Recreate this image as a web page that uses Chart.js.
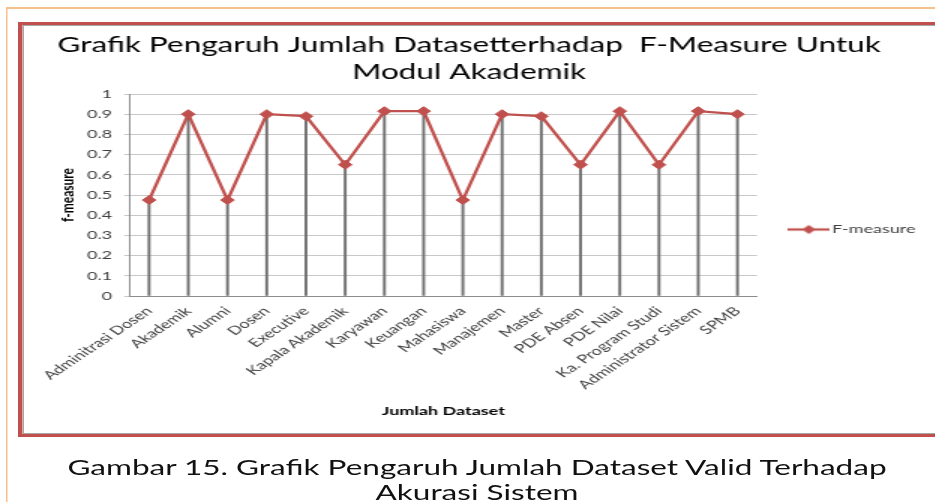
<!DOCTYPE html>
<html><head><meta charset="utf-8">
<script src="https://cdn.jsdelivr.net/npm/chart.js@4.4.1/dist/chart.umd.min.js"></script>
<style>
html,body{margin:0;padding:0;background:#fff;overflow:hidden;width:935px;height:502px;}
#page{position:absolute;left:0;top:0;width:623.33px;height:502px;transform:scaleX(1.5);transform-origin:0 0;}
#orange{position:absolute;left:3.5px;top:7px;width:700px;height:600px;border-top:2px solid #F8C08C;border-left:1.5px solid #F8C08C;}
#redbox{position:absolute;left:12px;top:22px;width:700px;height:415px;box-sizing:border-box;border:3px solid #C0504D;box-shadow:inset 0 0 0 1px #a6a6a6;background:#fff;}
#cv{position:absolute;left:0;top:26px;}
#caption{position:absolute;left:0;top:454px;width:636px;text-align:center;font-family:Lato,sans-serif;font-size:21px;line-height:25px;color:#111;}
</style></head>
<body>
<div id="page">
  <div id="orange"></div>
  <div id="redbox"></div>
  <canvas id="cv" width="623" height="407"></canvas>
  <div id="caption">Gambar 15. Grafik Pengaruh Jumlah Dataset Valid Terhadap<br>Akurasi Sistem</div>
</div>
<script>
const categories = ["Adminitrasi Dosen","Akademik","Alumni","Dosen","Executive","Kapala Akademik","Karyawan","Keuangan","Mahasiswa","Manajemen","Master","PDE Absen","PDE Nilai","Ka. Program Studi","Administrator Sistem","SPMB"];
const fMeasure = [0.475,0.9,0.475,0.9,0.89,0.65,0.915,0.915,0.475,0.9,0.89,0.65,0.915,0.65,0.915,0.9];
const yTickLabels = ["0","0.1","0.2","0.3","0.4","0.5","0.6","0.7","0.8","0.9","1"];
const seriesName = "F-measure";
const chartTitle = ["Grafik Pengaruh Jumlah Datasetterhadap  F-Measure Untuk","Modul Akademik"];
const xTitle = "Jumlah Dataset";
const yTitle = "f-measure";

const RED = "#C0504D";
// legend icon: line with diamond
const icon = document.createElement("canvas");
icon.width = 28; icon.height = 12;
(function(){
  const c = icon.getContext("2d");
  c.strokeStyle = RED; c.lineWidth = 2.3;
  c.beginPath(); c.moveTo(0,6); c.lineTo(28,6); c.stroke();
  c.fillStyle = RED;
  c.beginPath(); c.moveTo(14,1.5); c.lineTo(18.5,6); c.lineTo(14,10.5); c.lineTo(9.5,6); c.closePath(); c.fill();
})();

const FONT = "Lato";
new Chart(document.getElementById("cv"), {
  type: "line",
  data: {
    labels: categories,
    datasets: [
      { type: "line", label: seriesName, data: fMeasure, borderColor: RED, backgroundColor: RED,
        borderWidth: 2.3, pointStyle: "rectRot", pointRadius: 4.5, pointBorderWidth: 1,
        pointBackgroundColor: RED, pointBorderColor: RED, tension: 0, order: 1 },
      { type: "bar", label: "drop", data: fMeasure, backgroundColor: "#707070",
        barThickness: 1.25, order: 2 }
    ]
  },
  options: {
    responsive: false, animation: false, devicePixelRatio: 1,
    layout: { padding: { left: 5.1, right: 2.7, top: 0, bottom: 0 } },
    plugins: {
      tooltip: { enabled: false },
      title: { display: true, text: chartTitle, color: "#000",
        font: { family: FONT, size: 21, weight: "normal", lineHeight: 27/21 },
        padding: { top: 6, bottom: 8 } },
      legend: { position: "right",
        labels: { usePointStyle: true, pointStyleWidth: 19, padding: 25, color: "#404040",
          font: { family: FONT, size: 12 },
          generateLabels(chart) {
            const items = Chart.defaults.plugins.legend.labels.generateLabels(chart);
            return items.filter(i => i.datasetIndex === 0).map(i => Object.assign(i, { pointStyle: icon }));
          }
        }
      }
    },
    scales: {
      x: {
        offset: true,
        grid: { display: false, drawTicks: false },
        border: { display: true, color: "#8c8c8c", width: 1 },
        ticks: { autoSkip: false, minRotation: 45, maxRotation: 45, padding: 8, color: "#404040",
          font: { family: FONT, size: 12 } },
        title: { display: true, text: xTitle, color: "#000", font: { family: FONT, size: 12, weight: "bold" },
          padding: { top: 0, bottom: 15 } },
        afterFit(s) { s.height = 137; }
      },
      y: {
        min: 0, max: 1,
        grid: { color: "#c8c8c8", lineWidth: 1, drawTicks: true, tickLength: 3.5 },
        border: { display: true, color: "#8c8c8c", width: 1 },
        ticks: { stepSize: 0.1, autoSkip: false, padding: 8, color: "#404040",
          font: { family: FONT, size: 12 },
          callback: (v, i) => yTickLabels[i] },
        title: { display: true, text: yTitle, color: "#000", font: { family: FONT, size: 12, weight: "bold" },
          padding: { top: 33, bottom: 0 } },
        afterFit(s) { s.width = 81.2; }
      }
    }
  }
});
</script>
</body></html>
